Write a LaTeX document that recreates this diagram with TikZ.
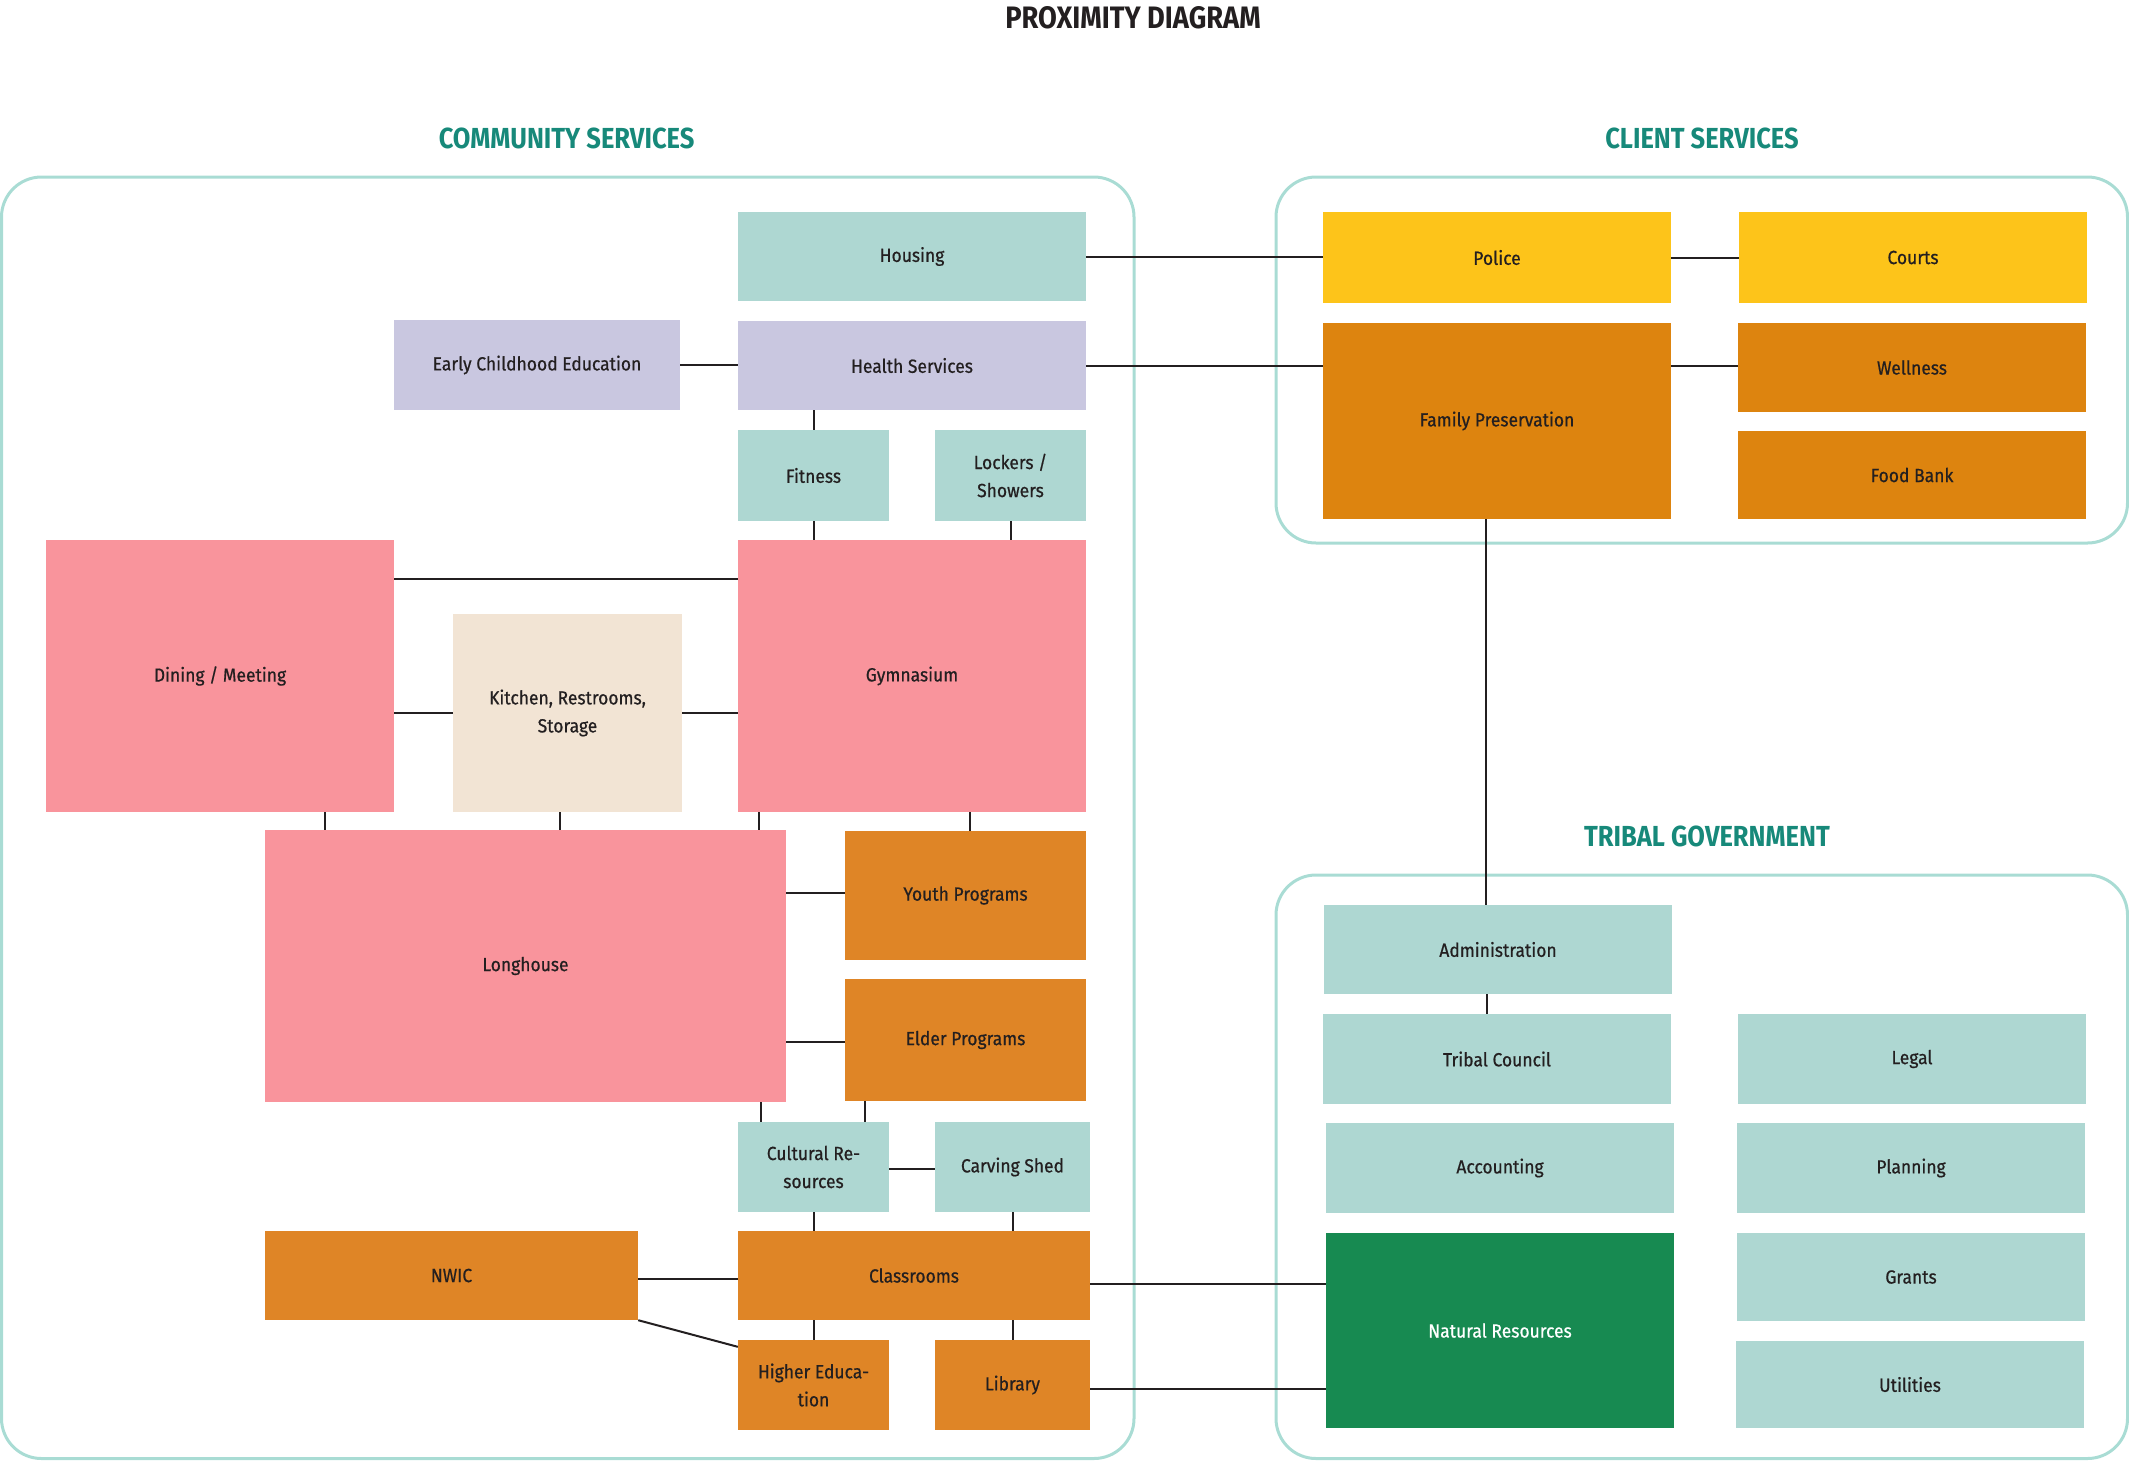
\documentclass[tikz,border=0pt]{standalone}
\usepackage{fontspec}
\setmainfont{Fira Sans}[FakeStretch=0.92, FakeBold=0.6]
\newfontfamily\headfont{Fira Sans}[FakeStretch=0.88]
\usetikzlibrary{calc}

\definecolor{ink}{HTML}{231F20}
\definecolor{frame}{HTML}{A9DCD4}
\definecolor{headteal}{HTML}{17897A}
\definecolor{mint}{HTML}{AED7D2}
\definecolor{lavender}{HTML}{C9C7E0}
\definecolor{rose}{HTML}{F9949C}
\definecolor{sand}{HTML}{F2E4D4}
\definecolor{amber}{HTML}{DF8526}
\definecolor{ochre}{HTML}{DD840F}
\definecolor{sun}{HTML}{FDC41A}
\definecolor{forest}{HTML}{178A51}

% place a room from its corner coordinates: name, x1, y1, x2, y2, style, label
\newcommand\placeroom[7]{%
  \pgfmathsetmacro\roomw{#4-#2}%
  \pgfmathsetmacro\roomh{#5-#3}%
  \node[room,#6,minimum width=\roomw pt,minimum height=\roomh pt]
    (#1) at ({(#2+#4)/2},{(#3+#5)/2}) {#7};}

\begin{document}
\begin{tikzpicture}[
  x=1pt, y=-1pt,
  room/.style={rectangle, inner sep=0pt, draw=none, align=center,
    text=ink, font=\fontsize{19}{28}\selectfont},
  mintroom/.style={fill=mint},
  lavroom/.style={fill=lavender},
  roseroom/.style={fill=rose},
  sandroom/.style={fill=sand},
  amberroom/.style={fill=amber},
  ochreroom/.style={fill=ochre},
  sunroom/.style={fill=sun},
  forestroom/.style={fill=forest, text=white},
  group/.style={draw=frame, line width=3pt, rounded corners=40pt},
  heading/.style={text=headteal, font=\headfont\fontsize{29}{32}\selectfont\bfseries, inner sep=0pt},
  maintitle/.style={text=ink, font=\headfont\fontsize{31}{34}\selectfont\bfseries, inner sep=0pt},
  link/.style={draw=ink, line width=2pt},
]
\useasboundingbox (0,0) rectangle (2129,1460);

% titles
\node[maintitle] (title) at (1133,17.5) {PROXIMITY DIAGRAM};
\node[heading] (hcommunity) at (566.6,138) {COMMUNITY SERVICES};
\node[heading] (hclient) at (1702,138) {CLIENT SERVICES};
\node[heading] (htribal) at (1707,836) {TRIBAL GOVERNMENT};

% group outlines
\draw[group] (1.5,177) rectangle (1134,1458.5);
\draw[group] (1276,177) rectangle (2127.5,543);
\draw[group] (1276,875) rectangle (2127.5,1458.5);

% community services
\placeroom{housing}{738}{212}{1086}{301}{mintroom}{Housing}
\placeroom{ece}{394}{320}{680}{410}{lavroom}{Early Childhood Education}
\placeroom{health}{738}{321}{1086}{410}{lavroom}{Health Services}
\placeroom{fitness}{738}{430}{889}{521}{mintroom}{Fitness}
\placeroom{lockers}{935}{430}{1086}{521}{mintroom}{Lockers /\\Showers}
\placeroom{dining}{46}{540}{394}{812}{roseroom}{Dining / Meeting}
\placeroom{kitchen}{453}{614}{682}{812}{sandroom}{Kitchen, Restrooms,\\Storage}
\placeroom{gym}{738}{540}{1086}{812}{roseroom}{Gymnasium}
\placeroom{longhouse}{265}{830}{786}{1102}{roseroom}{Longhouse}
\placeroom{youth}{845}{831}{1086}{960}{amberroom}{Youth Programs}
\placeroom{elder}{845}{979}{1086}{1101}{amberroom}{Elder Programs}
\placeroom{cultural}{738}{1122}{889}{1212}{mintroom}{Cultural Re-\\sources}
\placeroom{carving}{935}{1122}{1090}{1212}{mintroom}{Carving Shed}
\placeroom{nwic}{265}{1231}{638}{1320}{amberroom}{NWIC}
\placeroom{classrooms}{738}{1231}{1090}{1320}{amberroom}{Classrooms}
\placeroom{higher}{738}{1340}{889}{1430}{amberroom}{Higher Educa-\\tion}
\placeroom{library}{935}{1340}{1090}{1430}{amberroom}{Library}

% client services
\placeroom{police}{1323}{212}{1671}{303}{sunroom}{Police}
\placeroom{courts}{1739}{212}{2087}{303}{sunroom}{Courts}
\placeroom{family}{1323}{323}{1671}{519}{ochreroom}{Family Preservation}
\placeroom{wellness}{1738}{323}{2086}{412}{ochreroom}{Wellness}
\placeroom{foodbank}{1738}{431}{2086}{519}{ochreroom}{Food Bank}

% tribal government
\placeroom{admin}{1324}{905}{1672}{994}{mintroom}{Administration}
\placeroom{council}{1323}{1014}{1671}{1104}{mintroom}{Tribal Council}
\placeroom{legal}{1738}{1014}{2086}{1104}{mintroom}{Legal}
\placeroom{accounting}{1326}{1123}{1674}{1213}{mintroom}{Accounting}
\placeroom{planning}{1737}{1123}{2085}{1213}{mintroom}{Planning}
\placeroom{natres}{1326}{1233}{1674}{1428}{forestroom}{Natural Resources}
\placeroom{grants}{1737}{1233}{2085}{1321}{mintroom}{Grants}
\placeroom{utilities}{1736}{1341}{2084}{1428}{mintroom}{Utilities}

% connectors
\path[link] (housing.east) -- (housing.east -| police.west);
\path[link] (police.east) -- (police.east -| courts.west);
\path[link] (ece.east) -- (ece.east -| health.west);
\path[link] (health.east) -- (health.east -| family.west);
\path[link] (family.east |- health.east) -- (health.east -| wellness.west);
\path[link] (fitness.north) -- (fitness.north |- health.south);
\path[link] (fitness.south) -- (fitness.south |- gym.north);
\path[link] (lockers.south) -- (lockers.south |- gym.north);
\path[link] ([yshift=-39pt]dining.north east) -- ([yshift=-39pt]dining.north east -| gym.west);
\path[link] (kitchen.west) -- (kitchen.west -| dining.east);
\path[link] (kitchen.east) -- (kitchen.east -| gym.west);
\path[link] ([xshift=60pt]longhouse.north west) -- ([xshift=60pt]longhouse.north west |- dining.south);
\path[link] ([xshift=-8pt]kitchen.south) -- ([xshift=-8pt]kitchen.south |- longhouse.north);
\path[link] ([xshift=21pt]gym.south west) -- ([xshift=21pt]gym.south west |- longhouse.north);
\path[link] ([xshift=4pt]youth.north) -- ([xshift=4pt]youth.north |- gym.south);
\path[link] ([yshift=3pt]youth.west) -- ([yshift=3pt]youth.west -| longhouse.east);
\path[link] ([yshift=-2pt]elder.west) -- ([yshift=-2pt]elder.west -| longhouse.east);
\path[link] ([xshift=23pt]cultural.north west) -- ([xshift=23pt]cultural.north west |- longhouse.south);
\path[link] ([xshift=20pt]elder.south west) -- ([xshift=20pt]elder.south west |- cultural.north);
\path[link] ([yshift=-2pt]cultural.east) -- ([yshift=-2pt]cultural.east -| carving.west);
\path[link] (cultural.south) -- (cultural.south |- classrooms.north);
\path[link] (carving.south) -- (carving.south |- classrooms.north);
\path[link] ([yshift=-3pt]nwic.east) -- ([yshift=-3pt]nwic.east -| classrooms.west);
\path[link] (nwic.south east) -- ([yshift=-7pt]higher.north west);
\path[link] (higher.north) -- (higher.north |- classrooms.south);
\path[link] (library.north) -- (library.north |- classrooms.south);
\path[link] ([yshift=-8pt]classrooms.east) -- ([yshift=-8pt]classrooms.east -| natres.west);
\path[link] ([yshift=-4pt]library.east) -- ([yshift=-4pt]library.east -| natres.west);
\path[link] ([xshift=-11pt]family.south) -- ([xshift=-11pt]family.south |- admin.north);
\path[link] ([xshift=-11pt]admin.south) -- ([xshift=-11pt]admin.south |- council.north);
\end{tikzpicture}
\end{document}
